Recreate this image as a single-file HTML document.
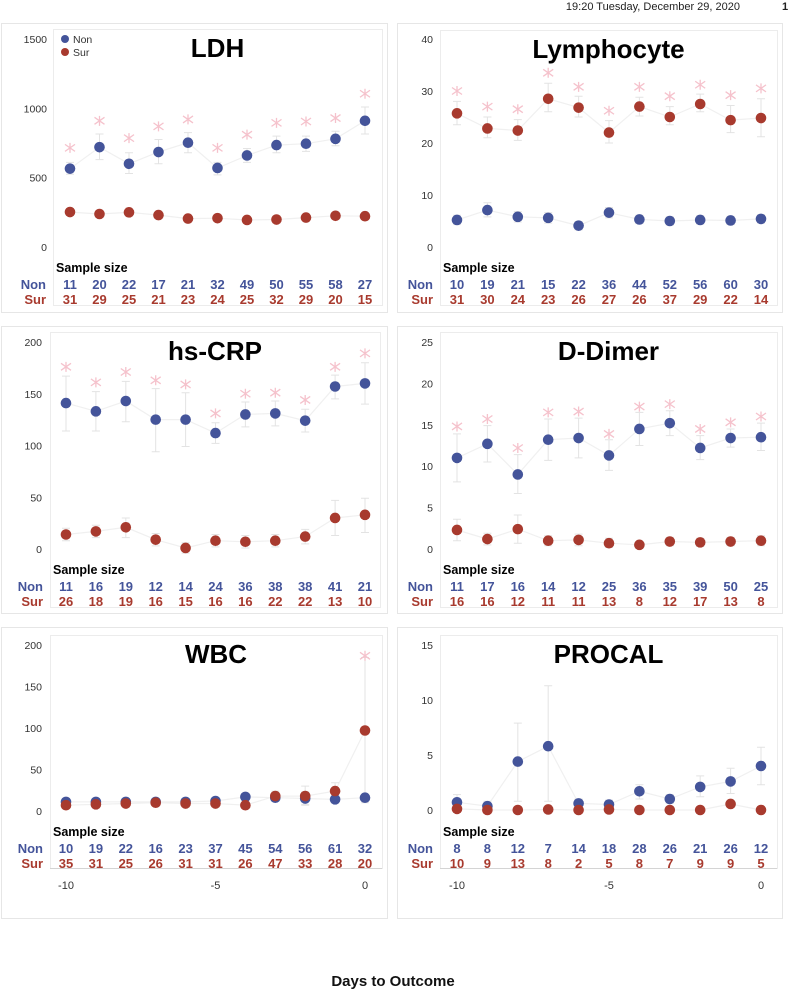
<!DOCTYPE html>
<html><head><meta charset="utf-8"><style>
html,body{margin:0;padding:0;background:#fff;}
svg{display:block;font-family:"Liberation Sans","DejaVu Sans",sans-serif;}
</style></head><body>
<svg id="chart" width="789" height="991" viewBox="0 0 789 991" xmlns="http://www.w3.org/2000/svg">
<text x="740" y="10" font-size="11" text-anchor="end" fill="#222">19:20 Tuesday, December 29, 2020</text>
<text x="782" y="10" font-size="11" font-weight="bold" fill="#222">1</text>
<text x="393" y="986" font-size="15" font-weight="bold" text-anchor="middle" fill="#111">Days to Outcome</text>
</svg>
<script>
// ---- data ----
const days = [-10,-9,-8,-7,-6,-5,-4,-3,-2,-1,0];
const xTicks = [-10,-5,0];

const ldhTicks = [0,500,1000,1500];
const ldhNon = [565,720,600,685,752,570,660,735,745,780,910];
const ldhNonLo = [525,630,530,600,680,520,610,680,690,730,815];
const ldhNonHi = [610,815,680,775,825,610,710,800,800,835,1010];
const ldhStar = [715,910,785,870,920,715,810,895,905,930,1105];
const ldhSur = [252,238,250,230,205,208,195,198,212,225,222];
const ldhSurLo = [237,224,236,216,192,195,183,186,200,212,208];
const ldhSurHi = [267,252,264,244,218,221,207,210,224,238,236];
const ldhNNon = [11,20,22,17,21,32,49,50,55,58,27];
const ldhNSur = [31,29,25,21,23,24,25,32,29,20,15];

const lymTicks = [0,10,20,30,40];
const lymNon = [5.2,7.1,5.8,5.6,4.1,6.6,5.3,5.0,5.2,5.1,5.4];
const lymNonLo = [4.3,5.8,4.8,4.6,3.3,5.6,4.5,4.2,4.4,4.3,4.6];
const lymNonHi = [6.1,8.5,6.8,6.6,4.9,7.6,6.1,5.8,6.0,5.9,6.2];
const lymSur = [25.7,22.8,22.4,28.5,26.8,22,27,25,27.5,24.4,24.8];
const lymSurLo = [23.5,21,20.5,26,25,20,25.2,23.5,26,22,21.2];
const lymSurHi = [28,25,24.5,31.5,29,24.3,28.8,27,29.4,27.2,28.5];
const lymStar = [30,27,26.5,33.5,30.8,26.2,30.8,29,31.2,29.2,30.5];
const lymNNon = [10,19,21,15,22,36,44,52,56,60,30];
const lymNSur = [31,30,24,23,26,27,26,37,29,22,14];

const crpTicks = [0,50,100,150,200];
const crpNon = [141,133,143,125,125,112,130,131,124,157,160];
const crpNonLo = [114,114,123,94,99,102,118,119,113,145,140];
const crpNonHi = [167,152,162,155,151,122,142,143,135,168,180];
const crpStar = [176,161,171,163,159,131,150,151,144,176,189];
const crpSur = [14,17,21,9,1,8,7,8,12,30,33];
const crpSurLo = [8,11,11,3,-4,2,1,2,5,13,16];
const crpSurHi = [20,23,30,15,6,14,13,14,19,47,49];
const crpNNon = [11,16,19,12,14,24,36,38,38,41,21];
const crpNSur = [26,18,19,16,15,16,16,22,22,13,10];

const ddTicks = [0,5,10,15,20,25];
const ddNon = [11,12.7,9,13.2,13.4,11.3,14.5,15.2,12.2,13.4,13.5];
const ddNonLo = [8.1,10.5,6.7,10.7,11,9.5,12.5,13.7,10.8,12.3,11.9];
const ddNonHi = [13.9,14.9,11.4,15.7,15.8,13.2,16.5,16.7,13.7,14.5,15.2];
const ddStar = [14.8,15.7,12.2,16.5,16.6,13.9,17.2,17.5,14.5,15.3,16];
const ddSur = [2.3,1.2,2.4,1.0,1.1,0.7,0.5,0.9,0.8,0.9,1.0];
const ddSurLo = [1,0.5,0.7,0.4,0.4,0.2,0.1,0.4,0.3,0.4,0.4];
const ddSurHi = [3.6,1.9,4.1,1.6,1.8,1.3,0.9,1.4,1.3,1.4,1.6];
const ddNNon = [11,17,16,14,12,25,36,35,39,50,25];
const ddNSur = [16,16,12,11,11,13,8,12,17,13,8];

const wbcTicks = [0,50,100,150,200];
const wbcNon = [11,11,11,11,11,12,17,16,15,14,16];
const wbcNonLo = [8,8,8,8,8,9,14,12,7,11,13];
const wbcNonHi = [14,14,14,14,14,15,20,20,23,17,19];
const wbcSur = [7,8,9,10,9,9,7,18,18,24,97];
const wbcSurLo = [4,5,6,7,6,6,4,12,8,15,10];
const wbcSurHi = [10,11,12,13,12,12,10,24,30,34,185];
const wbcStar = [null,null,null,null,null,null,null,null,null,null,187];
const wbcNNon = [10,19,22,16,23,37,45,54,56,61,32];
const wbcNSur = [35,31,25,26,31,31,26,47,33,28,20];

const pcTicks = [0,5,10,15];
const pcNon = [0.7,0.35,4.4,5.8,0.6,0.5,1.7,1.0,2.1,2.6,4.0];
const pcNonLo = [0,0,0.8,0.8,0.2,0.2,1,0.6,1.2,1.5,2.3];
const pcNonHi = [1.4,0.8,7.9,11.3,1,0.9,2.3,1.4,3.1,3.8,5.7];
const pcSur = [0.1,0,0,0.05,0,0.05,0,0,0,0.55,0];
const pcSurLo = [0,0,0,0,0,0,0,0,0,0.3,0];
const pcSurHi = [0.2,0.1,0.1,0.1,0.1,0.1,0.1,0.1,0.1,0.8,0.1];
const pcNNon = [8,8,12,7,14,18,28,26,21,26,12];
const pcNSur = [10,9,13,8,2,5,8,7,9,9,5];

// ---- layout ----
const NS = "http://www.w3.org/2000/svg";
const svg = document.getElementById('chart');
const BLUE = "#44549a", RED = "#a83a2e";
function mk(tag, attrs, parent){
  const e = document.createElementNS(NS, tag);
  for (const k in attrs) e.setAttribute(k, attrs[k]);
  (parent||svg).appendChild(e);
  return e;
}
const panels = [
  {key:'ldh',title:'LDH',ox:1,oy:23,ow:386,oh:289,fl:53,ft:29,fr:382,fb:305,x0:70,x1:365,yTop:39,yBot:247,yMax:1500,ticks:ldhTicks,tickX:47,non:ldhNon,nonLo:ldhNonLo,nonHi:ldhNonHi,star:ldhStar,sur:ldhSur,surLo:ldhSurLo,surHi:ldhSurHi,nN:ldhNNon,nS:ldhNSur,ss:272,legend:true},
  {key:'lym',title:'Lymphocyte',ox:397,oy:23,ow:385,oh:289,fl:440,ft:30,fr:777,fb:305,x0:457,x1:761,yTop:39,yBot:247,yMax:40,ticks:lymTicks,tickX:433,non:lymNon,nonLo:lymNonLo,nonHi:lymNonHi,star:lymStar,sur:lymSur,surLo:lymSurLo,surHi:lymSurHi,nN:lymNNon,nS:lymNSur,ss:272},
  {key:'crp',title:'hs-CRP',ox:1,oy:326,ow:386,oh:287,fl:50,ft:332,fr:380,fb:607,x0:66,x1:365,yTop:342,yBot:549,yMax:200,ticks:crpTicks,tickX:42,non:crpNon,nonLo:crpNonLo,nonHi:crpNonHi,star:crpStar,sur:crpSur,surLo:crpSurLo,surHi:crpSurHi,nN:crpNNon,nS:crpNSur,ss:574},
  {key:'dd',title:'D-Dimer',ox:397,oy:326,ow:385,oh:287,fl:440,ft:332,fr:777,fb:607,x0:457,x1:761,yTop:342,yBot:549,yMax:25,ticks:ddTicks,tickX:433,non:ddNon,nonLo:ddNonLo,nonHi:ddNonHi,star:ddStar,sur:ddSur,surLo:ddSurLo,surHi:ddSurHi,nN:ddNNon,nS:ddNSur,ss:574},
  {key:'wbc',title:'WBC',ox:1,oy:627,ow:386,oh:291,fl:50,ft:635,fr:382,fb:868,x0:66,x1:365,yTop:645,yBot:811,yMax:200,ticks:wbcTicks,tickX:42,non:wbcNon,nonLo:wbcNonLo,nonHi:wbcNonHi,star:wbcStar,sur:wbcSur,surLo:wbcSurLo,surHi:wbcSurHi,nN:wbcNNon,nS:wbcNSur,ss:836,xaxis:true},
  {key:'pc',title:'PROCAL',ox:397,oy:627,ow:385,oh:291,fl:440,ft:635,fr:777,fb:868,x0:457,x1:761,yTop:645,yBot:810,yMax:15,ticks:pcTicks,tickX:433,non:pcNon,nonLo:pcNonLo,nonHi:pcNonHi,star:null,sur:pcSur,surLo:pcSurLo,surHi:pcSurHi,nN:pcNNon,nS:pcNSur,ss:836,xaxis:true}
];

panels.forEach(p => {
  const g = mk('g', {});
  
  
  const xs = d => p.x0 + (d - days[0]) * (p.x1 - p.x0) / (days[days.length-1] - days[0]);
  const ys = v => p.yBot - v * (p.yBot - p.yTop) / p.yMax;

  const ob = mk('rect', {x:p.ox+0.5,y:p.oy+0.5,width:p.ow,height:p.oh,fill:'none',stroke:'#e6e6e6'}, g);
  
  
  const fr = mk('rect', {x:p.fl+0.5,y:p.ft+0.5,width:p.fr-p.fl,height:p.fb-p.ft,fill:'none',stroke:'#ececec'}, g);
  
  
  if (p.xaxis) {
    const ax = mk('line', {x1:p.fl,x2:p.fr,y1:p.fb+0.5,y2:p.fb+0.5,stroke:'#d4d4d4'}, g);
    
    
    xTicks.forEach(t => {
      const tl = mk('text', {x:xs(t),y:p.fb+21,'font-size':11,'text-anchor':'middle',fill:'#333'}, g);
      tl.textContent = t;
      
      
    });
  }
  p.ticks.forEach(t => {
    const tl = mk('text', {x:p.tickX,y:ys(t)+4,'font-size':10.5,'text-anchor':'end',fill:'#333'}, g);
    tl.textContent = t;
    
    
  });
  const tt = mk('text', {x:(p.fl+p.fr)/2,y:p.ft+28,'font-size':26,'font-weight':'bold','text-anchor':'middle',fill:'#000'}, g);
  tt.textContent = p.title;
  
  

  [[p.non,'non'],[p.sur,'sur']].forEach(([arr,nm]) => {
    const pts = arr.map((v,i)=> xs(days[i]).toFixed(1)+','+ys(v).toFixed(1)).join(' ');
    const pl = mk('polyline', {points:pts,fill:'none',stroke:'#f0f0f0','stroke-width':1.2}, g);
    
    
  });
  [[p.nonLo,p.nonHi,'non'],[p.surLo,p.surHi,'sur']].forEach(([lo,hi,nm]) => {
    lo.forEach((l,i) => {
      const x = xs(days[i]);
      const eb = mk('path', {d:`M${x},${ys(l)}V${ys(hi[i])}M${x-4},${ys(l)}h8M${x-4},${ys(hi[i])}h8`,stroke:'#e3e3e3','stroke-width':1,fill:'none'}, g);
      
      
    });
  });
  if (p.star) {
    p.star.forEach((v,i) => {
      if (v === null) return;
      const x = xs(days[i]), y = ys(v), r = 5;
      const st = mk('path', {d:`M${x-r},${y-r*0.7}L${x+r},${y+r*0.7}M${x-r},${y+r*0.7}L${x+r},${y-r*0.7}M${x},${y-r}V${y+r}`,stroke:'#f5c2cc','stroke-width':1.3,fill:'none'}, g);
      
      
    });
  }
  [[p.non,BLUE,'non'],[p.sur,RED,'sur']].forEach(([arr,col,nm]) => {
    arr.forEach((v,i) => {
      const c = mk('circle', {cx:xs(days[i]),cy:ys(v),r:5.3,fill:col}, g);
      
      
    });
  });
  const ssl = mk('text', {x:p.fl+3,y:p.ss,'font-size':12.5,'font-weight':'bold',fill:'#000'}, g);
  ssl.textContent = 'Sample size';
  
  
  [[p.nN,BLUE,'Non',17],[p.nS,RED,'Sur',32]].forEach(([arr,col,lab,dy]) => {
    const rl = mk('text', {x:p.fl-7,y:p.ss+dy,'font-size':13,'font-weight':'bold','text-anchor':'end',fill:col}, g);
    rl.textContent = lab;
    
    
    arr.forEach((n,i) => {
      const t = mk('text', {x:xs(days[i]),y:p.ss+dy,'font-size':13,'font-weight':'bold','text-anchor':'middle',fill:col}, g);
      t.textContent = n;
      
      
    });
  });
  if (p.legend) {
    [[BLUE,'Non',39],[RED,'Sur',52]].forEach(([col,lab,y]) => {
      const lg = mk('g', {}, g);
      
      
      mk('circle', {cx:65,cy:y,r:4,fill:col}, lg);
      const lt = mk('text', {x:73,y:y+4,'font-size':10.5,fill:'#333'}, lg);
      lt.textContent = lab;
    });
  }
});
</script>
</body></html>
